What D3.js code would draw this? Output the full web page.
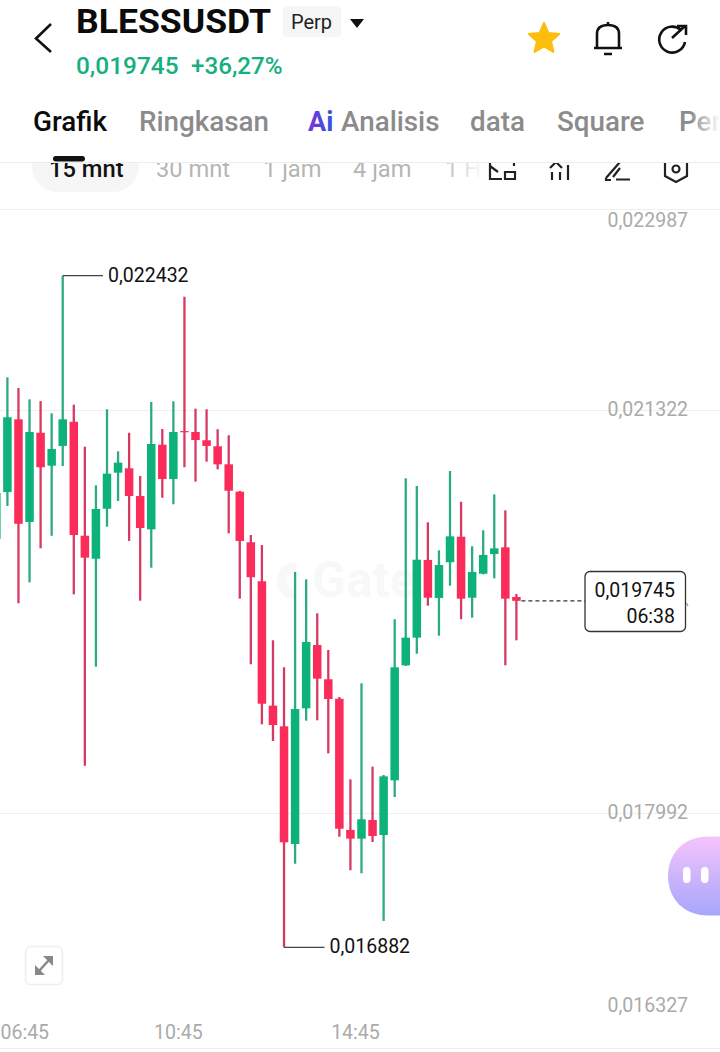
<!DOCTYPE html>
<html><head><meta charset="utf-8">
<script src="https://cdnjs.cloudflare.com/ajax/libs/d3/7.8.5/d3.min.js"></script>
<style>html,body{margin:0;padding:0;background:#fff}svg{display:block}text{font-family:Roboto,sans-serif}</style>
</head><body>
<div id="c"></div>
<script>
// Candle index -1 .. 46, 15 minute candles (prices in USDT)
const firstIndex = -1;
const opens = [0.020256,0.020644,0.021245,0.020397,0.021134,0.020862,0.021025,0.021225,0.020283,0.020093,0.020506,0.020804,0.020840,0.020611,0.020336,0.021035,0.020752,0.021148,0.021140,0.021072,0.021022,0.020873,0.020647,0.020229,0.019907,0.018879,0.018708,0.017736,0.018857,0.019380,0.019097,0.018936,0.017852,0.017780,0.017934,0.017810,0.018262,0.019212,0.019441,0.020083,0.019769,0.020064,0.020275,0.019771,0.019969,0.020132,0.020187,0.019777];
const highs = [0.020636,0.021592,0.021504,0.021410,0.021396,0.021295,0.022432,0.021366,0.021019,0.020700,0.021328,0.020981,0.021134,0.020777,0.021388,0.021165,0.021394,0.022258,0.021333,0.021328,0.021163,0.021113,0.020653,0.020289,0.020206,0.019419,0.019196,0.019983,0.019923,0.019642,0.019339,0.018950,0.018270,0.019064,0.018375,0.018306,0.019593,0.020758,0.020694,0.020394,0.020163,0.020818,0.020564,0.020196,0.020328,0.020625,0.020493,0.019802];
const lows = [0.020256,0.020529,0.019725,0.019898,0.020179,0.020283,0.020859,0.019799,0.018383,0.019201,0.020358,0.020570,0.020240,0.019746,0.020019,0.020597,0.020543,0.020849,0.020730,0.020895,0.020832,0.020303,0.019763,0.019221,0.018725,0.018587,0.016882,0.017573,0.018755,0.018758,0.018485,0.017796,0.017519,0.017494,0.017752,0.017100,0.018124,0.019207,0.019308,0.019705,0.019457,0.019870,0.019593,0.019606,0.019964,0.019931,0.019212,0.019419];
const closes = [0.020636,0.021262,0.020382,0.021140,0.020849,0.021000,0.021245,0.020289,0.020102,0.020504,0.020796,0.020887,0.020611,0.020347,0.021041,0.020752,0.021140,0.021140,0.021074,0.021025,0.020873,0.020655,0.020240,0.019940,0.018895,0.018719,0.017750,0.018851,0.019405,0.019102,0.018934,0.017862,0.017780,0.017940,0.017802,0.018295,0.019196,0.019441,0.020085,0.019771,0.020041,0.020278,0.019763,0.019983,0.020124,0.020179,0.019763,0.019745];

const yTicks = [0.022987,0.021322,0.017992,0.016327];
const gridTicks = [0.022987,0.021322,0.017992];
const timeTicks = [{i:-1,label:"06:45"},{i:15,label:"10:45"},{i:31,label:"14:45"}];
const tabs = ["Grafik","Ringkasan","Analisis","data","Square","Per"];
const periods = ["15 mnt","30 mnt","1 jam","4 jam","1 H"];
const maxPrice = 0.022432, minPrice = 0.016882, lastPrice = 0.019745;
const maxIndex = 5, minIndex = 25, lastIndex = 46;
const countdown = "06:38";

const W = 720, H = 1052;
const GREEN="#0cb27a", RED="#fb2b5a", WICKG="#2cab80", WICKR="#d53a62";
const fmt = v => v.toFixed(6).replace(".",",");

const svg = d3.select("#c").append("svg").attr("width",W).attr("height",H).attr("viewBox",`0 0 ${W} ${H}`);
const defs = svg.append("defs");
const fade = defs.append("linearGradient").attr("id","fade");
fade.append("stop").attr("offset",0).attr("stop-color","#fff").attr("stop-opacity",0);
fade.append("stop").attr("offset",1).attr("stop-color","#fff").attr("stop-opacity",1);
const blob = defs.append("linearGradient").attr("id","blob").attr("x1",0).attr("x2",0).attr("y1",0).attr("y2",1);
blob.append("stop").attr("offset",0).attr("stop-color","#f6c3fb");
blob.append("stop").attr("offset",1).attr("stop-color","#a6a6fb");
const ai = defs.append("linearGradient").attr("id","ai").attr("x1",0).attr("x2",1);
ai.append("stop").attr("offset",0).attr("stop-color","#7a35d8");
ai.append("stop").attr("offset",1).attr("stop-color","#2f55e0");

const x = d3.scaleLinear().domain([0,46]).range([7.4,516.4]);
const y = d3.scaleLinear().domain([0.016327,0.022987]).range([1014.5,208.5]);

// period row (clipped by header)
svg.append("rect").attr("x",32).attr("y",130).attr("width",107).attr("height",62).attr("rx",26).attr("fill","#f6f6f6");
const periodX=[49,156,263,353,445];
svg.selectAll("text.per").data(periods).join("text").attr("class","per")
  .attr("x",(d,i)=>periodX[i]).attr("y",177).attr("font-size",23.7)
  .attr("fill",(d,i)=>i==0?"#111":"#b5b5b5").attr("font-weight",(d,i)=>i==0?500:400).text(d=>d);
svg.append("rect").attr("x",440).attr("y",150).attr("width",44).attr("height",45).attr("fill","url(#fade)");
svg.append("rect").attr("x",484).attr("y",150).attr("width",236).attr("height",45).attr("fill","#fff");

// tool icons
const ic = svg.append("g").attr("fill","none").attr("stroke","#222").attr("stroke-width",2.2);
ic.append("path").attr("d","M490 162V179H502M505 172H515V179H505ZM490 166L498 172M514 162V166");
ic.append("path").attr("d","M550 168L556 162L562 168M552 172V180M560 172V180M568 165V180");
ic.append("path").attr("d","M606 178L620 162M620 168L613 177M616 179.5H630M606 178V180H611");
ic.append("path").attr("d","M665 162V176L676 182L687 176V162");
ic.append("circle").attr("cx",676).attr("cy",169).attr("r",3.5);

// header
svg.append("rect").attr("x",0).attr("y",0).attr("width",W).attr("height",162).attr("fill","#fff");
svg.append("line").attr("x1",0).attr("x2",W).attr("y1",162.5).attr("y2",162.5).attr("stroke","#ececec");
svg.append("rect").attr("x",53).attr("y",156).attr("width",32).attr("height",5.5).attr("rx",2.7).attr("fill","#111");
svg.append("path").attr("d","M51 24L36 38.5L51 52").attr("fill","none").attr("stroke","#111").attr("stroke-width",2.6);
svg.append("text").attr("x",76).attr("y",33).attr("font-size",34).attr("font-weight",700).attr("fill","#0b0b0b").attr("textLength",195).attr("lengthAdjust","spacingAndGlyphs").text("BLESSUSDT");
svg.append("rect").attr("x",283).attr("y",6).attr("width",58).attr("height",31).attr("rx",4).attr("fill","#f6f6f6");
svg.append("text").attr("x",291).attr("y",29).attr("font-size",20).attr("fill","#222").text("Perp");
svg.append("path").attr("d","M350 19H364L357 28Z").attr("fill","#111");
svg.append("text").attr("x",76).attr("y",74).attr("font-size",24.4).attr("font-weight",500).attr("fill","#16b07f").text("0,019745");
svg.append("text").attr("x",191).attr("y",74).attr("font-size",24.2).attr("font-weight",500).attr("fill","#16b07f").text("+36,27%");
svg.append("path").attr("transform","translate(544,39)").attr("fill","#fdbd0d").attr("stroke","#fdbd0d").attr("stroke-width",2).attr("stroke-linejoin","round")
  .attr("d",d3.range(10).map(i=>{const r=i%2?7.5:16,a=-Math.PI/2+i*Math.PI/5;return (i?"L":"M")+(r*Math.cos(a)).toFixed(1)+" "+(r*Math.sin(a)).toFixed(1)}).join("")+"Z");
const hd = svg.append("g").attr("fill","none").attr("stroke","#111").attr("stroke-width",2.6);
hd.append("path").attr("d","M597 47V34C597 27 602 25 608 25C614 25 619 27 619 34V47");
hd.append("path").attr("d","M594 48H622M604 54H612M608 25V22");
hd.append("path").attr("d","M681 30A13 13 0 1 0 685 42M672 38L685 26M677 26H686V35");
const tabX=[33,139,341,470,557,679];
svg.selectAll("text.tab").data(tabs).join("text").attr("class","tab")
  .attr("x",(d,i)=>tabX[i]).attr("y",131).attr("font-size",27.8)
  .attr("font-weight",500).attr("fill",(d,i)=>i==0?"#0b0b0b":"#8b8b8b").text(d=>d);
svg.append("text").attr("x",308).attr("y",131).attr("font-size",27).attr("font-weight",700).attr("fill","url(#ai)").text("Ai");
svg.append("rect").attr("x",690).attr("y",100).attr("width",30).attr("height",50).attr("fill","url(#fade)");

// grid
const chart = svg.append("g");
chart.selectAll("line.grid").data(gridTicks).join("line").attr("class","grid")
  .attr("x1",0).attr("x2",W).attr("y1",d=>Math.round(y(d))+.5).attr("y2",d=>Math.round(y(d))+.5)
  .attr("stroke","#efefef");
svg.append("line").attr("x1",0).attr("x2",W).attr("y1",1048.5).attr("y2",1048.5).attr("stroke","#ececec");

// watermark
const wm = chart.append("g").attr("fill","#f7f8f7");
wm.append("text").attr("x",312).attr("y",597).attr("font-size",50).attr("font-weight",700).text("Gate");
wm.append("path").attr("d","M296 562A19 19 0 1 0 296 600L296 590A9 9 0 1 1 296 572Z");

// y axis labels
const axisY = d3.axisRight(y).tickValues(yTicks).tickSize(0).tickPadding(0).tickFormat(fmt);
const ya = chart.append("g").attr("transform","translate(607.5,0)").call(axisY);
ya.select(".domain").remove();
ya.selectAll("text").attr("font-size",19.5).attr("fill","#aaa").attr("font-family","Roboto, sans-serif")
  .attr("dy",null).attr("dominant-baseline","middle")
  .attr("y",d=>{const p=y(d); return Math.max(221,Math.min(1006,p))-y(d);});

// x axis labels
const axisX = d3.axisBottom(x).tickValues(timeTicks.map(d=>d.i)).tickSize(0).tickPadding(0)
  .tickFormat(i=>timeTicks.find(d=>d.i===i).label);
const xa = chart.append("g").attr("transform","translate(0,1018)").call(axisX);
xa.select(".domain").remove();
xa.selectAll("text").attr("font-size",19.5).attr("fill","#aaa").attr("font-family","Roboto, sans-serif")
  .attr("dy",null).attr("y",21)
  .attr("text-anchor",i=>i===-1?"start":"middle")
  .attr("x",i=>i===-1?0-x(i):4.5);

// candles
const candles = opens.map((o,k)=>({i:firstIndex+k,o,h:highs[k],l:lows[k],c:closes[k]}));
const up = d=>d.c>=d.o;
const g = chart.selectAll("g.candle").data(candles).join("g").attr("class","candle");
g.append("line").attr("x1",d=>x(d.i)).attr("x2",d=>x(d.i)).attr("y1",d=>y(d.h)).attr("y2",d=>y(d.l))
  .attr("stroke",d=>up(d)?WICKG:WICKR).attr("stroke-width",2.3);
g.append("rect").attr("x",d=>x(d.i)-4.25).attr("width",8.5)
  .attr("y",d=>y(Math.max(d.o,d.c))).attr("height",d=>Math.max(1.2,Math.abs(y(d.o)-y(d.c))))
  .attr("fill",d=>up(d)?GREEN:RED);

// max / min callouts
const call = (idx,price,textX)=>{
  chart.append("path").attr("fill","none").attr("stroke","#444").attr("stroke-width",1.4)
    .attr("d",`M${x(idx)} ${y(price)}H${textX-5}`);
  chart.append("text").attr("x",textX).attr("y",y(price)+1).attr("dominant-baseline","middle")
    .attr("font-size",19.5).attr("fill","#111").text(fmt(price));
};
call(maxIndex,maxPrice,108);
call(minIndex,minPrice,329.5);

// last price
const ly = y(lastPrice);
chart.append("line").attr("x1",x(lastIndex)+5).attr("x2",585).attr("y1",ly).attr("y2",ly)
  .attr("stroke","#333").attr("stroke-width",1.2).attr("stroke-dasharray","4 3");
chart.append("rect").attr("x",585).attr("y",571.5).attr("width",100.5).attr("height",60).attr("rx",5)
  .attr("fill","#fff").attr("stroke","#333").attr("stroke-width",1.3);
chart.append("path").attr("d","M686.5 603L688 606").attr("stroke","#777").attr("fill","none");
chart.append("text").attr("x",675).attr("y",596.5).attr("text-anchor","end").attr("font-size",19.5).attr("fill","#111").text(fmt(lastPrice));
chart.append("text").attr("x",675).attr("y",622.5).attr("text-anchor","end").attr("font-size",19.5).attr("fill","#111").text(countdown);

// expand button
svg.append("rect").attr("x",25.5).attr("y",946.5).attr("width",37).attr("height",38).attr("rx",5).attr("fill","#fff").attr("stroke","#eee").attr("stroke-width",1.5);
const ex = svg.append("g");
ex.append("path").attr("fill","#888").attr("d","M35 975V965L45 975ZM53 956V966L43 956Z");
ex.append("path").attr("stroke","#888").attr("stroke-width",2.5).attr("d","M39 971L49 960");

// floating assistant
svg.append("path").attr("d","M720 836.5H708C684 836.5 668 853 668 876S684 915.5 708 915.5H720Z").attr("fill","url(#blob)");
svg.append("rect").attr("x",683).attr("y",867).attr("width",7.5).attr("height",16).attr("rx",3.7).attr("fill","#fff");
svg.append("rect").attr("x",701).attr("y",867).attr("width",7.5).attr("height",16).attr("rx",3.7).attr("fill","#fff");
</script>
</body></html>
